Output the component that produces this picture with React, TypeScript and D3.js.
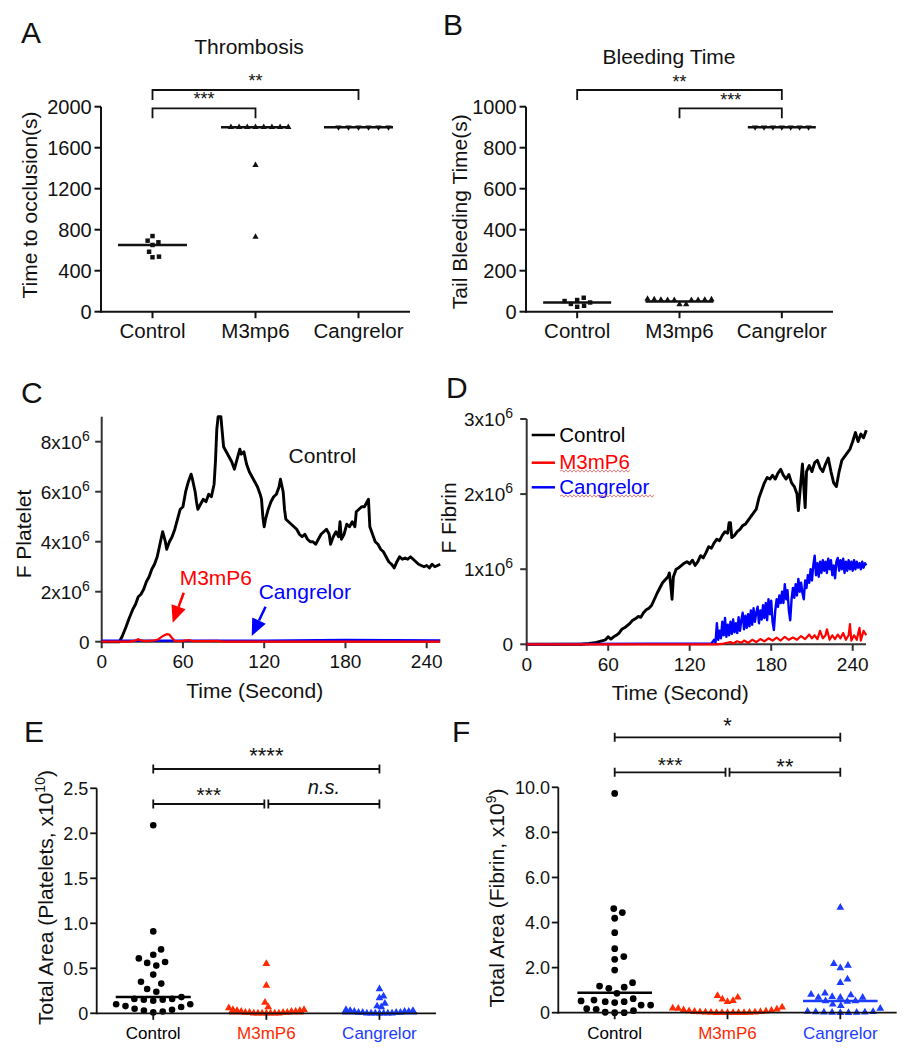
import React from "react";
import * as d3 from "d3";

const FONT = "Arial, 'Liberation Sans', Helvetica, sans-serif";
const RED = "#ff0000";
const BLUE = "#0000ff";
const RED2 = "#ff2a00";
const BLUE2 = "#1c3cff";

// ---------------- Panel A : Thrombosis ----------------
const topCategories = ["Control", "M3mp6", "Cangrelor"];
const thrombosisControl = [738, 693, 677, 651, 585, 537, 531];
const thrombosisM3mp6 = [1800, 1800, 1800, 1800, 1800, 1800, 1800, 1800, 1430, 730];
const thrombosisCangrelor = [1800, 1800, 1800, 1800, 1800, 1800];
const thrombosisMedians = [650, 1800, 1800];
const thrombosisTicks = [0, 400, 800, 1200, 1600, 2000];
const thrombosisSig = [
  { from: 0, to: 1, label: "***" },
  { from: 0, to: 2, label: "**" },
];

// ---------------- Panel B : Bleeding time ----------------
const bleedingControl = [68, 57, 52, 45, 38, 29, 24];
const bleedingM3mp6 = [62, 60, 60, 58, 58, 57, 57, 56, 56, 36, 36];
const bleedingCangrelor = [900, 900, 900, 900, 900, 900, 900];
const bleedingMedians = [45, 50, 900];
const bleedingTicks = [0, 200, 400, 600, 800, 1000];
const bleedingSig = [
  { from: 0, to: 2, label: "**" },
  { from: 1, to: 2, label: "***" },
];

// ---------------- Panel C : F Platelet (x10^6) vs time ----------------
const timeTicks = [0, 60, 120, 180, 240];
const plateletTicks = [0, 2, 4, 6, 8];
const plateletControl: [number, number][] = [
  [0, 0], [13, 0], [15, 0.2], [18, 0.6], [20, 0.9], [23, 1.3], [25, 1.5], [27, 1.8], [29, 1.9], [31, 2.1],
  [33, 2.4], [35, 2.6], [37, 2.9], [39, 3.1], [41, 3.4], [43, 3.9], [45, 4.4], [47, 4.0], [48, 3.7], [50, 4.0],
  [52, 4.2], [54, 4.5], [56, 4.9], [58, 5.3], [60, 5.4], [62, 6.0], [64, 6.4], [66, 6.7], [67, 6.5], [69, 6.0],
  [70, 5.6], [71, 5.3], [73, 5.5], [75, 5.7], [77, 5.6], [79, 5.9], [81, 5.8], [83, 6.3], [84, 7.2], [85, 8.5],
  [86, 9.0], [88, 9.0], [89, 8.4], [90, 7.8], [92, 7.6], [94, 7.4], [96, 7.2], [98, 6.9], [100, 7.3], [102, 7.7],
  [103, 7.5], [105, 7.6], [107, 7.1], [109, 6.8], [111, 6.6], [113, 6.4], [115, 6.2], [117, 5.9], [118, 5.7], [119, 5.0],
  [120, 4.6], [121, 4.9], [123, 5.3], [125, 5.6], [127, 5.8], [129, 5.9], [131, 6.2], [132, 6.5], [134, 6.0], [135, 5.3],
  [136, 4.9], [138, 4.8], [140, 4.7], [142, 4.6], [144, 4.5], [146, 4.3], [148, 4.2], [150, 4.3], [152, 4.1], [154, 4.0],
  [156, 4.0], [158, 3.9], [160, 4.1], [162, 4.3], [164, 4.4], [166, 4.5], [168, 4.3], [169, 3.9], [171, 4.2], [173, 4.4],
  [175, 4.2], [176, 4.8], [177, 4.1], [179, 4.3], [181, 4.7], [183, 4.6], [185, 4.8], [187, 4.6], [188, 5.2], [190, 5.3],
  [192, 5.4], [194, 5.4], [196, 5.6], [197, 5.7], [198, 4.6], [200, 4.3], [202, 4.0], [204, 3.9], [206, 3.7], [208, 3.6],
  [210, 3.4], [212, 3.2], [214, 3.1], [216, 2.95], [218, 3.2], [220, 3.4], [222, 3.3], [224, 3.35], [226, 3.3], [228, 3.4],
  [230, 3.3], [232, 3.2], [234, 3.1], [236, 3.05], [238, 3.0], [240, 3.05], [242, 2.95], [244, 3.1], [246, 3.0], [248, 3.05],
  [250, 3.1],
];
const plateletM3mP6: [number, number][] = [
  [0, 0], [20, 0], [24, 0.03], [27, 0.1], [29, 0.05], [32, 0.02], [38, 0.04], [42, 0.1], [44, 0.18], [46, 0.25],
  [48, 0.3], [50, 0.28], [52, 0.15], [54, 0.03], [58, 0.02], [65, 0.06], [67, 0.02], [85, 0.03], [90, 0], [250, 0],
];
const plateletCangrelor: [number, number][] = [
  [0, 0.04], [60, 0.04], [120, 0.04], [180, 0.07], [250, 0.05],
];

// ---------------- Panel D : F Fibrin (x10^6) vs time ----------------
const fibrinTicks = [0, 1, 2, 3];
const fibrinControl: [number, number][] = [
  [0, 0], [40, 0], [46, 0.01], [50, 0.02], [54, 0.04], [58, 0.06], [60, 0.1], [62, 0.07], [64, 0.1], [66, 0.12],
  [68, 0.15], [70, 0.2], [72, 0.22], [74, 0.25], [76, 0.28], [78, 0.32], [80, 0.34], [82, 0.37], [84, 0.36], [86, 0.42],
  [88, 0.46], [90, 0.48], [92, 0.52], [94, 0.6], [96, 0.68], [98, 0.75], [100, 0.82], [102, 0.86], [104, 0.9], [105, 0.95],
  [106, 0.8], [107, 0.6], [108, 0.9], [110, 1.0], [112, 1.02], [114, 1.05], [116, 1.08], [118, 1.1], [120, 1.07], [122, 1.12],
  [124, 1.05], [126, 1.1], [128, 1.18], [130, 1.15], [132, 1.22], [134, 1.3], [136, 1.28], [138, 1.35], [140, 1.4], [142, 1.38],
  [144, 1.45], [146, 1.5], [148, 1.48], [149, 1.62], [150, 1.62], [151, 1.42], [153, 1.45], [155, 1.5], [157, 1.53], [159, 1.58],
  [161, 1.6], [163, 1.65], [165, 1.7], [167, 1.75], [169, 1.8], [171, 1.95], [173, 2.05], [175, 2.15], [177, 2.22], [179, 2.2],
  [181, 2.25], [183, 2.2], [185, 2.28], [187, 2.33], [189, 2.25], [191, 2.2], [193, 2.26], [195, 2.15], [197, 2.1], [199, 2.0],
  [200, 1.78], [202, 2.2], [203, 2.4], [204, 2.1], [205, 1.82], [206, 2.3], [208, 2.38], [210, 2.3], [212, 2.42], [214, 2.45],
  [216, 2.35], [218, 2.3], [220, 2.4], [222, 2.48], [224, 2.3], [226, 2.15], [228, 2.1], [230, 2.3], [232, 2.45], [234, 2.5],
  [236, 2.55], [238, 2.6], [240, 2.7], [242, 2.82], [244, 2.7], [246, 2.8], [248, 2.75], [250, 2.85],
];
const fibrinCangrelor: [number, number][] = [
  [0, 0], [136, 0.01], [138, 0.06], [139, 0.02], [140, 0.28], [141, 0.06], [142, 0.18], [143, 0.08], [144, 0.3], [145, 0.12],
  [146, 0.35], [147, 0.1], [148, 0.26], [149, 0.12], [150, 0.3], [151, 0.14], [152, 0.33], [153, 0.16], [154, 0.28], [155, 0.15],
  [156, 0.36], [157, 0.18], [158, 0.32], [159, 0.42], [160, 0.2], [161, 0.38], [162, 0.22], [163, 0.4], [164, 0.24], [165, 0.45],
  [166, 0.26], [167, 0.48], [168, 0.3], [169, 0.42], [170, 0.5], [171, 0.28], [172, 0.45], [173, 0.33], [174, 0.52], [175, 0.35],
  [176, 0.55], [177, 0.32], [178, 0.6], [179, 0.4], [180, 0.58], [181, 0.3], [182, 0.19], [183, 0.45], [184, 0.6], [185, 0.5],
  [186, 0.65], [187, 0.55], [188, 0.7], [189, 0.55], [190, 0.8], [191, 0.6], [192, 0.72], [193, 0.45], [194, 0.32], [195, 0.6],
  [196, 0.75], [197, 0.62], [198, 0.8], [199, 0.65], [200, 0.87], [201, 0.7], [202, 0.82], [203, 0.68], [204, 0.6], [205, 0.85],
  [206, 0.75], [207, 0.92], [208, 0.82], [209, 1.0], [210, 0.85], [211, 1.05], [212, 1.18], [213, 0.92], [214, 1.08], [215, 0.9],
  [216, 1.1], [217, 0.95], [218, 1.12], [219, 0.98], [220, 1.1], [221, 0.95], [222, 1.14], [223, 1.0], [224, 1.12], [225, 0.92],
  [226, 1.05], [227, 0.88], [228, 1.1], [229, 1.15], [230, 0.98], [231, 1.12], [232, 1.0], [233, 1.14], [234, 0.95], [235, 1.1],
  [236, 0.98], [237, 1.12], [238, 1.0], [239, 1.1], [240, 0.98], [241, 1.12], [242, 1.0], [243, 1.1], [244, 1.02], [245, 1.08],
  [246, 1.0], [247, 1.1], [248, 1.02], [249, 1.08], [250, 1.05],
];
const fibrinM3mP6: [number, number][] = [
  [0, 0], [140, 0], [145, 0.01], [150, 0.03], [152, 0.01], [155, 0.04], [158, 0.02], [160, 0.05], [163, 0.02], [166, 0.06],
  [169, 0.03], [172, 0.07], [175, 0.04], [178, 0.08], [181, 0.05], [184, 0.09], [187, 0.05], [190, 0.1], [193, 0.06], [196, 0.09],
  [199, 0.06], [202, 0.11], [205, 0.07], [208, 0.13], [210, 0.08], [212, 0.12], [214, 0.07], [216, 0.18], [218, 0.08], [220, 0.12],
  [221, 0.2], [223, 0.06], [225, 0.12], [227, 0.07], [229, 0.13], [231, 0.08], [233, 0.15], [235, 0.06], [237, 0.12], [238, 0.27],
  [239, 0.05], [241, 0.12], [243, 0.06], [245, 0.22], [246, 0.05], [248, 0.18], [250, 0.12],
];
const fibrinLegend = ["Control", "M3mP6", "Cangrelor"];

// ---------------- Panel E : Total area platelets (x10^10) ----------------
const bottomCategories = ["Control", "M3mP6", "Cangrelor"];
const plateletAreaControl = [2.09, 0.91, 0.71, 0.65, 0.61, 0.57, 0.56, 0.53, 0.43, 0.35, 0.33, 0.27, 0.24, 0.18,
  0.16, 0.15, 0.15, 0.14, 0.16, 0.10, 0.08, 0.07, 0.05, 0.03, 0.02, 0.01, 0.04, 0.10];
const plateletAreaM3mP6 = [0.55, 0.31, 0.12, 0.07, 0.06, 0.04, 0.04, 0.03, 0.03, 0.02, 0.02, 0.02, 0.01, 0.01,
  0.01, 0.01, 0.0, 0.0, 0.0, 0.0, 0.0, 0.0, 0.0];
const plateletAreaCangrelor = [0.27, 0.19, 0.17, 0.11, 0.08, 0.07, 0.04, 0.03, 0.03, 0.02, 0.02, 0.02, 0.01, 0.01,
  0.01, 0.01, 0.0, 0.0, 0.0, 0.0, 0.0, 0.0, 0.0];
const plateletAreaMedians = [0.18, 0.0, 0.0];
const plateletAreaTicks = [0, 0.5, 1.0, 1.5, 2.0, 2.5];
const plateletAreaSig = [
  { from: 0, to: 2, label: "****" },
  { from: 0, to: 1, label: "***" },
  { from: 1, to: 2, label: "n.s." },
];

// ---------------- Panel F : Total area fibrin (x10^9) ----------------
const fibrinAreaControl = [9.73, 4.62, 4.44, 4.19, 3.55, 2.84, 2.49, 2.37, 1.89, 1.33, 1.18, 1.13, 1.08, 0.86,
  0.62, 0.56, 0.52, 0.49, 0.49, 0.45, 0.34, 0.34, 0.18, 0.15, 0.09, 0.02, 0.0, 0.0];
const fibrinAreaM3mP6 = [0.75, 0.68, 0.6, 0.53, 0.49, 0.24, 0.2, 0.19, 0.15, 0.12, 0.1, 0.08, 0.06, 0.05, 0.04,
  0.03, 0.02, 0.02, 0.01, 0.01, 0, 0, 0, 0, 0, 0];
const fibrinAreaCangrelor = [4.67, 2.17, 2.09, 1.98, 1.48, 1.33, 0.86, 0.81, 0.78, 0.71, 0.67, 0.67, 0.67, 0.52,
  0.52, 0.5, 0.37, 0.31, 0.19, 0.05, 0.04, 0.03, 0.02, 0.02, 0.01, 0.01, 0.0, 0.0];
const fibrinAreaMedians = [0.88, 0.0, 0.52];
const fibrinAreaTicks = [0, 2, 4, 6, 8, 10];
const fibrinAreaSig = [
  { from: 0, to: 2, label: "*" },
  { from: 0, to: 1, label: "***" },
  { from: 1, to: 2, label: "**" },
];

// ================= helpers =================
type Pt = { v: number; x: number; y: number };

function swarm(values: number[], y: (v: number) => number, mdx: number, mdy: number): Pt[] {
  const pts: Pt[] = values.map((v) => ({ v, x: 0, y: y(v) }));
  const order = d3.range(pts.length).sort((a, b) => pts[b].y - pts[a].y || a - b);
  const placed: Pt[] = [];
  for (const i of order) {
    const p = pts[i];
    const iv: [number, number][] = [];
    for (const q of placed) {
      const dy = (p.y - q.y) / mdy;
      if (Math.abs(dy) < 1) {
        const dx = mdx * Math.sqrt(1 - dy * dy);
        iv.push([q.x - dx, q.x + dx]);
      }
    }
    const cands = [0];
    iv.forEach(([a, b]) => cands.push(a, b));
    cands.sort((a, b) => Math.abs(a) - Math.abs(b) || b - a);
    let chosen = 0;
    for (const c of cands) {
      if (!iv.some(([a, b]) => c > a + 1e-6 && c < b - 1e-6)) {
        chosen = c;
        break;
      }
    }
    p.x = chosen;
    placed.push(p);
  }
  return pts;
}

function symbolPath(shape: string, area: number): string {
  const type = shape === "square" ? d3.symbolSquare : shape === "circle" ? d3.symbolCircle : d3.symbolTriangle;
  return d3.symbol().type(type).size(area)() || "";
}

type Sig = { from: number; to: number; label: string };

type DotProps = {
  cats: string[];
  groups: number[][];
  medians: number[];
  shapes: string[];
  areas: number[];
  mdx: number[];
  mdy: number[];
  colors: string[];
  medianColors: string[];
  catColors: string[];
  left: number;
  right: number;
  top: number;
  bottom: number;
  max: number;
  ticks: number[];
  fmt: (v: number) => string;
  tickFont: number;
  catFont: number;
  catBaseline: number;
  tickGap: number;
  half: number;
  axisWidth: number;
  medianWidth: number;
  sig: Sig[];
  sigY: number[];
  sigDy: number[];
  sigFont: number[];
  sigStyle: "legs" | "caps";
};

function DotPanel(p: DotProps) {
  const x = d3.scalePoint<string>().domain(p.cats).range([p.left, p.right]).padding(0.5);
  const y = d3.scaleLinear().domain([0, p.max]).range([p.bottom, p.top]);
  const tl = 6.5;
  return (
    <g>
      {p.groups.map((vals, gi) => {
        const cx = x(p.cats[gi]) as number;
        const pts = swarm(vals, y, p.mdx[gi], p.mdy[gi]);
        const d = symbolPath(p.shapes[gi], p.areas[gi]);
        const rot = p.shapes[gi] === "triangleDown" ? " rotate(180)" : "";
        const my = y(p.medians[gi]);
        return (
          <g key={gi}>
            <g fill={p.colors[gi]}>
              {pts.map((pt, i) => (
                <path key={i} d={d} transform={`translate(${cx + pt.x},${pt.y})${rot}`} />
              ))}
            </g>
            <line x1={cx - p.half} x2={cx + p.half} y1={my} y2={my} stroke={p.medianColors[gi]} strokeWidth={p.medianWidth} />
          </g>
        );
      })}
      <g stroke="#111" strokeWidth={p.axisWidth}>
        <line x1={p.left} x2={p.left} y1={p.bottom + p.axisWidth / 2} y2={p.top} />
        <line x1={p.left} x2={p.right} y1={p.bottom} y2={p.bottom} />
        {p.ticks.map((t) => (
          <line key={t} x1={p.left - tl} x2={p.left} y1={y(t)} y2={y(t)} />
        ))}
        {p.cats.map((c) => (
          <line key={c} x1={x(c)} x2={x(c)} y1={p.bottom} y2={p.bottom + tl} />
        ))}
      </g>
      {p.ticks.map((t) => (
        <text key={t} x={p.left - p.tickGap} y={y(t)} dy="0.36em" textAnchor="end" fontSize={p.tickFont} fill="#111">
          {p.fmt(t)}
        </text>
      ))}
      {p.cats.map((c, i) => (
        <text key={c} x={x(c)} y={p.catBaseline} textAnchor="middle" fontSize={p.catFont} fill={p.catColors[i]}>
          {c}
        </text>
      ))}
      {p.sig.map((s, i) => {
        let x1 = x(p.cats[s.from]) as number;
        let x2 = x(p.cats[s.to]) as number;
        const by = p.sigY[i];
        if (p.sigStyle === "caps") {
          if (s.from === 1) x1 += 2;
          if (s.to === 1) x2 -= 2;
        }
        const italic = s.label === "n.s.";
        return (
          <g key={i}>
            {p.sigStyle === "legs" ? (
              <path d={`M${x1},${by + 10}V${by}H${x2}V${by + 10}`} fill="none" stroke="#111" strokeWidth={1.8} />
            ) : (
              <path
                d={`M${x1},${by - 4.5}V${by + 4.5}M${x1},${by}H${x2}M${x2},${by - 4.5}V${by + 4.5}`}
                fill="none"
                stroke="#111"
                strokeWidth={1.8}
              />
            )}
            <text
              x={(x1 + x2) / 2}
              y={by + p.sigDy[i]}
              textAnchor="middle"
              fontSize={p.sigFont[i]}
              fontStyle={italic ? "italic" : "normal"}
              fill="#111"
            >
              {s.label}
            </text>
          </g>
        );
      })}
    </g>
  );
}

function arrow(x1: number, y1: number, x2: number, y2: number, color: string, key: string) {
  const ang = Math.atan2(y2 - y1, x2 - x1);
  const L = 17;
  const W = 7.5;
  const bx = x2 - L * Math.cos(ang);
  const by = y2 - L * Math.sin(ang);
  const px = -Math.sin(ang) * W;
  const py = Math.cos(ang) * W;
  return (
    <g key={key}>
      <line x1={x1} y1={y1} x2={bx} y2={by} stroke={color} strokeWidth={2.5} />
      <path d={`M${x2},${y2}L${bx + px},${by + py}L${bx - px},${by - py}Z`} fill={color} />
    </g>
  );
}

function squiggle(x1: number, x2: number, y: number) {
  let d = `M${x1},${y}`;
  let up = true;
  for (let xx = x1 + 2; xx <= x2; xx += 2) {
    d += `L${xx},${y + (up ? -1.2 : 1.2)}`;
    up = !up;
  }
  return <path d={d} fill="none" stroke="#e06060" strokeWidth={1} opacity={0.8} />;
}

type TSProps = {
  left: number;
  bottom: number;
  xEnd: number;
  top: number;
  yMax: number;
  pxPer240: number;
  yTicks: number[];
  series: { data: [number, number][]; color: string; width: number }[];
  labelGap: number;
};

function TimePanel(p: TSProps) {
  const x = d3.scaleLinear().domain([0, 240]).range([p.left, p.left + p.pxPer240]);
  const y = d3.scaleLinear().domain([0, p.yMax]).range([p.bottom, p.top]);
  const line = d3
    .line<[number, number]>()
    .x((d) => x(d[0]))
    .y((d) => y(d[1]));
  const tl = 6.5;
  return (
    <g>
      <g stroke="#333" strokeWidth={2}>
        <line x1={p.left} x2={p.left} y1={p.bottom + 1} y2={p.top} />
        <line x1={p.left} x2={p.xEnd} y1={p.bottom} y2={p.bottom} />
        {p.yTicks.map((t) => (
          <line key={t} x1={p.left - tl} x2={p.left} y1={y(t)} y2={y(t)} />
        ))}
        {timeTicks.map((t) => (
          <line key={t} x1={x(t)} x2={x(t)} y1={p.bottom} y2={p.bottom + tl} />
        ))}
      </g>
      {p.series.map((s, i) => (
        <path key={i} d={line(s.data) || ""} fill="none" stroke={s.color} strokeWidth={s.width} strokeLinejoin="round" />
      ))}
      {p.yTicks.map((t) =>
        t === 0 ? (
          <text key={t} x={p.left - p.labelGap} y={y(t)} dy="0.36em" textAnchor="end" fontSize={19} fill="#111">
            0
          </text>
        ) : (
          <text key={t} x={p.left - p.labelGap} y={y(t)} dy="0.36em" textAnchor="end" fontSize={19} fill="#111">
            {`${t}x10`}
            <tspan fontSize={14} dy={-8}>
              6
            </tspan>
          </text>
        )
      )}
      {timeTicks.map((t) => (
        <text key={t} x={x(t)} y={p.bottom + 26.5} textAnchor="middle" fontSize={19} fill="#111">
          {t}
        </text>
      ))}
      <text x={x(113)} y={p.bottom + 56} textAnchor="middle" fontSize={21} fill="#111">
        Time (Second)
      </text>
    </g>
  );
}

export default function App() {
  // Panel C annotation scales
  const cx = d3.scaleLinear().domain([0, 240]).range([101.7, 426.7]);
  const cy = d3.scaleLinear().domain([0, 9]).range([641.7, 416.7]);

  return (
    <svg
      width={912}
      height={1050}
      viewBox="0 0 912 1050"
      style={{ position: "absolute", left: 0, top: 0, background: "#fff" }}
      fontFamily={FONT}
    >
      <rect width={912} height={1050} fill="#fff" />

      {/* panel letters */}
      <g fontSize={30} fill="#111">
        <text x={21} y={43.3}>A</text>
        <text x={443} y={35}>B</text>
        <text x={21} y={403.3}>C</text>
        <text x={446} y={398}>D</text>
        <text x={24} y={742}>E</text>
        <text x={452} y={742}>F</text>
      </g>

      {/* ---------- A ---------- */}
      <text x={249} y={54} textAnchor="middle" fontSize={21} fill="#111">Thrombosis</text>
      <text transform="translate(37,205) rotate(-90)" textAnchor="middle" fontSize={21} fill="#111">
        Time to occlusion(s)
      </text>
      <DotPanel
        cats={topCategories}
        groups={[thrombosisControl, thrombosisM3mp6, thrombosisCangrelor]}
        medians={thrombosisMedians}
        shapes={["square", "triangle", "triangleDown"]}
        areas={[20, 17, 17]}
        mdx={[6.5, 8.2, 10]}
        mdy={[6.5, 6.5, 6.5]}
        colors={["#111", "#111", "#111"]}
        medianColors={["#111", "#111", "#111"]}
        catColors={["#111", "#111", "#111"]}
        left={101}
        right={410}
        top={106.7}
        bottom={311.7}
        max={2000}
        ticks={thrombosisTicks}
        fmt={(v) => String(v)}
        tickFont={20}
        catFont={20.5}
        catBaseline={338.3}
        tickGap={9.3}
        half={34.5}
        axisWidth={2}
        medianWidth={2.5}
        sig={thrombosisSig}
        sigY={[108.3, 90]}
        sigDy={[-3.5, -3]}
        sigFont={[18, 18]}
        sigStyle="legs"
      />

      {/* ---------- B ---------- */}
      <text x={669} y={64.3} textAnchor="middle" fontSize={21} fill="#111">Bleeding Time</text>
      <text transform="translate(466.5,211.7) rotate(-90)" textAnchor="middle" fontSize={21} fill="#111">
        Tail Bleeding Time(s)
      </text>
      <DotPanel
        cats={topCategories}
        groups={[bleedingControl, bleedingM3mp6, bleedingCangrelor]}
        medians={bleedingMedians}
        shapes={["square", "triangle", "triangleDown"]}
        areas={[20, 17, 17]}
        mdx={[7, 6.7, 8.9]}
        mdy={[6.5, 6.5, 6.5]}
        colors={["#111", "#111", "#111"]}
        medianColors={["#111", "#111", "#111"]}
        catColors={["#111", "#111", "#111"]}
        left={526}
        right={833}
        top={106.7}
        bottom={311.7}
        max={1000}
        ticks={bleedingTicks}
        fmt={(v) => String(v)}
        tickFont={20}
        catFont={20.5}
        catBaseline={338.3}
        tickGap={9.3}
        half={34}
        axisWidth={2}
        medianWidth={2.5}
        sig={bleedingSig}
        sigY={[90, 108.3]}
        sigDy={[-2, -2.5]}
        sigFont={[18, 18]}
        sigStyle="legs"
      />

      {/* ---------- C ---------- */}
      <text transform="translate(30.5,534) rotate(-90)" textAnchor="middle" fontSize={21} fill="#111">
        F Platelet
      </text>
      <TimePanel
        left={101.7}
        bottom={641.7}
        xEnd={440}
        top={416.7}
        yMax={9}
        pxPer240={325}
        yTicks={plateletTicks}
        labelGap={12}
        series={[
          { data: plateletControl, color: "#000", width: 2.9 },
          { data: plateletCangrelor, color: BLUE, width: 2.2 },
          { data: plateletM3mP6, color: RED, width: 2.2 },
        ]}
      />
      <text x={cx(138)} y={463.3} fontSize={21} fill="#111">Control</text>
      <text x={cx(84.3)} y={585} textAnchor="middle" fontSize={21} fill={RED}>M3mP6</text>
      <text x={cx(150)} y={599.3} textAnchor="middle" fontSize={21} fill={BLUE}>Cangrelor</text>
      {arrow(cx(60.6), cy(1.96), cx(52.4), cy(0.76), RED, "ar")}
      {arrow(cx(121), cy(1.4), cx(110.8), cy(0.23), BLUE, "ab")}

      {/* ---------- D ---------- */}
      <text transform="translate(456,518) rotate(-90)" textAnchor="middle" fontSize={21} fill="#111">
        F Fibrin
      </text>
      <TimePanel
        left={526.7}
        bottom={644.3}
        xEnd={866}
        top={419}
        yMax={3}
        pxPer240={326}
        yTicks={fibrinTicks}
        labelGap={13.7}
        series={[
          { data: fibrinControl, color: "#000", width: 2.9 },
          { data: fibrinCangrelor, color: BLUE, width: 2.4 },
          { data: fibrinM3mP6, color: RED, width: 2.2 },
        ]}
      />
      {fibrinLegend.map((name, i) => {
        const ly = [435, 462.7, 487.3][i];
        const col = ["#000", RED, BLUE][i];
        return (
          <g key={name}>
            <line x1={531.7} x2={555} y1={ly} y2={ly} stroke={col} strokeWidth={2.5} />
            <text x={559.3} y={ly + 6.5} fontSize={20.5} fill={col}>{name}</text>
          </g>
        );
      })}
      {squiggle(560, 630, 471)}
      {squiggle(560, 654, 496)}

      {/* ---------- E ---------- */}
      <text transform="translate(53,897.5) rotate(-90)" textAnchor="middle" fontSize={21} fill="#111">
        Total Area (Platelets, x10
        <tspan fontSize={14} dy={-8}>10</tspan>
        <tspan dy={8}>)</tspan>
      </text>
      <DotPanel
        cats={bottomCategories}
        groups={[plateletAreaControl, plateletAreaM3mP6, plateletAreaCangrelor]}
        medians={plateletAreaMedians}
        shapes={["circle", "triangle", "triangle"]}
        areas={[34, 26, 26]}
        mdx={[9.5, 4.2, 4.2]}
        mdy={[9.5, 7, 7]}
        colors={["#000", RED2, BLUE2]}
        medianColors={["#000", RED2, BLUE2]}
        catColors={["#000", RED2, BLUE2]}
        left={96.7}
        right={436}
        top={788.3}
        bottom={1013.3}
        max={2.5}
        ticks={plateletAreaTicks}
        fmt={(v) => (v === 0 ? "0" : v.toFixed(1))}
        tickFont={18}
        catFont={17}
        catBaseline={1039.3}
        tickGap={8.4}
        half={37.5}
        axisWidth={1.8}
        medianWidth={2.5}
        sig={plateletAreaSig}
        sigY={[769, 804, 804]}
        sigDy={[-6, -2, -10]}
        sigFont={[22, 21, 20]}
        sigStyle="caps"
      />

      {/* ---------- F ---------- */}
      <text transform="translate(504,898) rotate(-90)" textAnchor="middle" fontSize={21} fill="#111">
        Total Area (Fibrin, x10
        <tspan fontSize={14} dy={-8}>9</tspan>
        <tspan dy={8}>)</tspan>
      </text>
      <DotPanel
        cats={bottomCategories}
        groups={[fibrinAreaControl, fibrinAreaM3mP6, fibrinAreaCangrelor]}
        medians={fibrinAreaMedians}
        shapes={["circle", "triangle", "triangle"]}
        areas={[36, 26, 26]}
        mdx={[9.5, 5.5, 8.2]}
        mdy={[9.5, 7, 7]}
        colors={["#000", RED2, BLUE2]}
        medianColors={["#000", RED2, BLUE2]}
        catColors={["#000", RED2, BLUE2]}
        left={558.3}
        right={896.7}
        top={787.3}
        bottom={1012.7}
        max={10}
        ticks={fibrinAreaTicks}
        fmt={(v) => (v === 0 ? "0" : v.toFixed(1))}
        tickFont={18}
        catFont={17}
        catBaseline={1039.3}
        tickGap={8.3}
        half={37.3}
        axisWidth={1.8}
        medianWidth={2.5}
        sig={fibrinAreaSig}
        sigY={[737.3, 772.3, 772.3]}
        sigDy={[-4, 0, 2]}
        sigFont={[22, 21, 22]}
        sigStyle="caps"
      />
    </svg>
  );
}
